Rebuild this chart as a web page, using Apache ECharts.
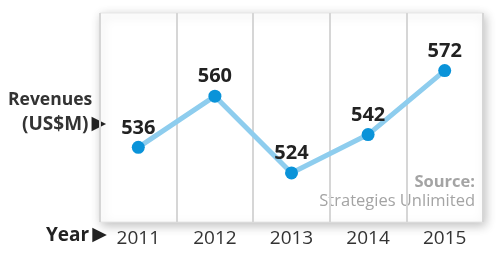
<!DOCTYPE html>
<html><head><meta charset="utf-8">
<script src="https://cdn.jsdelivr.net/npm/echarts@6/dist/echarts.min.js"></script>
<style>html,body{margin:0;padding:0;background:#fff}#c{width:500px;height:260px}</style>
</head><body><div id="c"></div>
<script>
const years = ['2011','2012','2013','2014','2015'];
const revenues = [536, 560, 524, 542, 572];
const yMin = 501, yMax = 599;

const chart = echarts.init(document.getElementById('c'));
const F = '"Open Sans", "Noto Sans", sans-serif';
chart.setOption({
  animation: false,
  backgroundColor: '#fff',
  grid: {left: 100, right: 17, top: 13, bottom: 38, show: true, backgroundColor: '#fff',
    borderColor: '#e6e6e6', borderWidth: 1, shadowBlur: 10, shadowColor: 'rgba(0,0,0,0.25)', shadowOffsetX: 2, shadowOffsetY: 3},
  xAxis: {type: 'category', data: years, boundaryGap: true,
    axisLine: {show: false}, axisTick: {show: false},
    splitLine: {show: true, lineStyle: {color: '#d6d6d6', width: 2}},
    axisLabel: {fontFamily: F, fontSize: 19, color: '#333', margin: 7}},
  yAxis: {type: 'value', min: yMin, max: yMax, show: false, splitLine: {show: false}},
  series: [{type: 'line', data: revenues, symbol: 'circle', symbolSize: 13,
    lineStyle: {color: '#8ecdee', width: 5},
    itemStyle: {color: '#0a93d9'},
    label: {show: true, position: 'top', distance: 3, fontFamily: F, fontSize: 20, fontWeight: 'bold', color: '#222'}}],
  graphic: [
    {type: 'text', right: 25, top: 174, style: {text: 'Source:', fontFamily: F, fontSize: 16.5, fontWeight: 'bold', fill: '#a4a4a4', textAlign: 'right'}},
    {type: 'text', right: 25, top: 193, style: {text: 'Strategies Unlimited', fontFamily: F, fontSize: 16.5, fill: '#a4a4a4', textAlign: 'right'}},
    {type: 'text', left: 8, top: 91, style: {text: 'Revenues', fontFamily: F, fontSize: 17.5, fontWeight: 'bold', fill: '#333'}},
    {type: 'text', left: 22, top: 115, style: {rich: {a: {fontFamily: F, fontSize: 19, fontWeight: 'bold', fill: '#333'}, b: {fontFamily: '"DejaVu Sans", sans-serif', fontSize: 19, fill: '#222', padding: [0, 0, 0, 3]}}, text: '{a|(US$M)}{b|\u25B6}'}},
    {type: 'text', left: 46, top: 226, style: {rich: {a: {fontFamily: F, fontSize: 19, fontWeight: 'bold', fill: '#222'}, b: {fontFamily: '"DejaVu Sans", sans-serif', fontSize: 19, fill: '#222', padding: [0, 0, 0, 3]}}, text: '{a|Year}{b|\u25B6}'}}
  ]
});
</script></body></html>
